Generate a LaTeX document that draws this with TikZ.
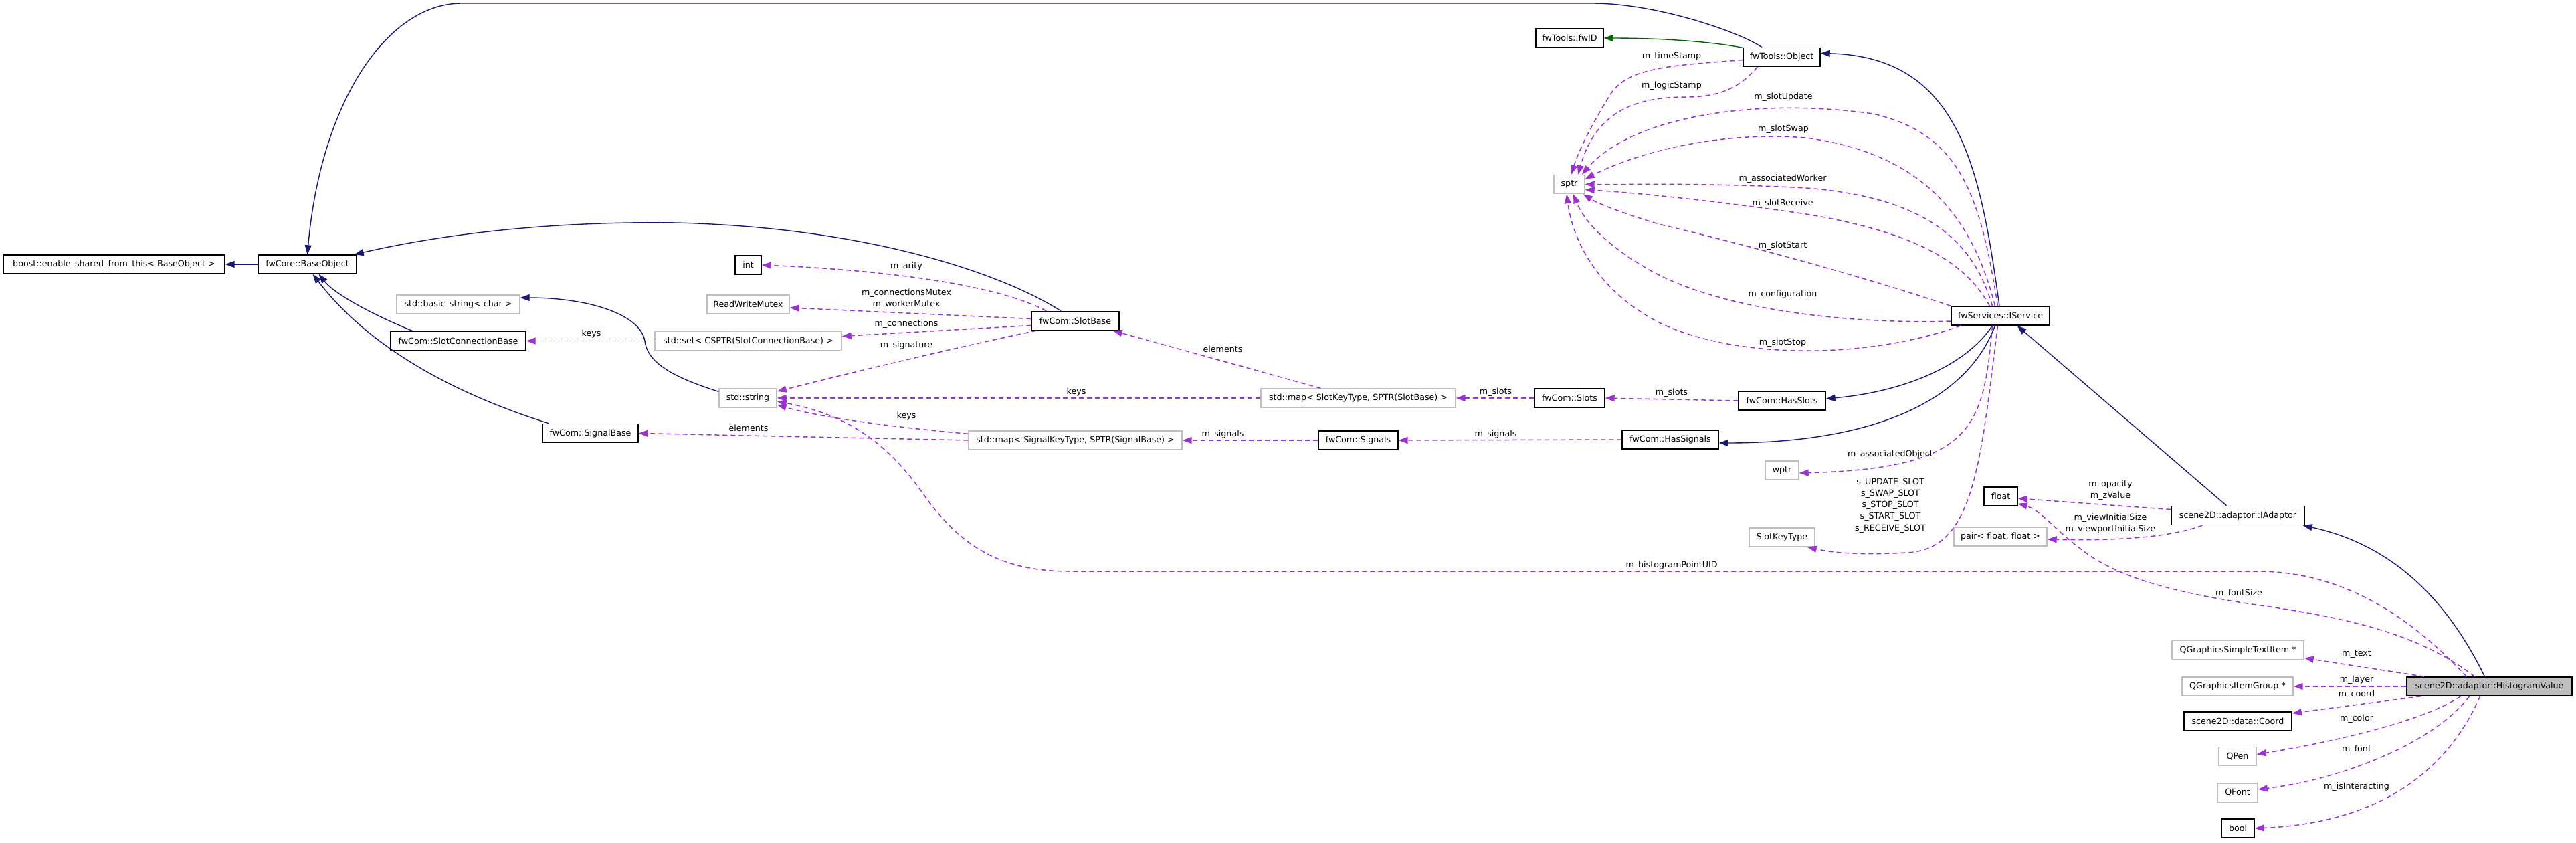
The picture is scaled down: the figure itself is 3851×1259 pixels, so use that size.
\documentclass[tikz,border=0pt]{standalone}
\usepackage{fontspec}
\setmainfont{DejaVu Sans}
\usetikzlibrary{arrows.meta,calc}
\definecolor{navy}{HTML}{191970}
\definecolor{purp}{HTML}{9A32CD}
\definecolor{dgreen}{HTML}{006400}
\definecolor{gborder}{HTML}{BFBFBF}
\begin{document}
\begin{tikzpicture}[x=0.5pt,y=-0.5pt,
  every node/.style={font=\fontsize{6.33}{8.6}\selectfont},
  box/.style={draw=black,line width=0.7pt,minimum height=14pt,inner sep=0pt,fill=white},
  gbox/.style={box,draw=gborder},
  hbox/.style={box,fill=gborder},
  lbl/.style={inner sep=0pt,align=center},
  inh/.style={draw=navy,line width=0.7pt,-{Triangle[length=7pt,width=5pt]}},
  grn/.style={draw=dgreen,line width=0.7pt,-{Triangle[length=7pt,width=5pt]}},
  mem/.style={draw=purp,line width=0.75pt,dash pattern=on 3.5pt off 2.5pt,-{Triangle[length=7pt,width=5pt]}}]
\useasboundingbox (0,0) rectangle (3851,1259);
% nodes
\node[box,minimum width=165.5pt] (boost) at (170.5,395) {boost::enable\_shared\_from\_this< BaseObject >};
\node[box,minimum width=73.5pt] (base) at (459.5,395) {fwCore::BaseObject};
\node[gbox,minimum width=92pt] (bstr) at (685,455) {std::basic\_string< char >};
\node[box,minimum width=101pt] (sconn) at (685,509.5) {fwCom::SlotConnectionBase};
\node[gbox,minimum width=139.5pt] (sset) at (1118.5,509.5) {std::set< CSPTR(SlotConnectionBase) >};
\node[box,minimum width=19.5pt] (int) at (1118.5,396) {int};
\node[gbox,minimum width=61.5pt] (rwm) at (1118.5,455) {ReadWriteMutex};
\node[gbox,minimum width=43pt] (str) at (1118,595) {std::string};
\node[box,minimum width=71.5pt] (sigbase) at (882.5,647.5) {fwCom::SignalBase};
\node[box,minimum width=65.5pt] (slotbase) at (1607.5,479.5) {fwCom::SlotBase};
\node[gbox,minimum width=145.5pt] (mapslot) at (2030.5,595) {std::map< SlotKeyType, SPTR(SlotBase) >};
\node[gbox,minimum width=159.5pt] (mapsig) at (1607.5,658) {std::map< SignalKeyType, SPTR(SignalBase) >};
\node[box,minimum width=52.5pt] (slots) at (2346.5,595) {fwCom::Slots};
\node[box,minimum width=59.5pt] (signals) at (2030.5,658) {fwCom::Signals};
\node[box,minimum width=65pt] (hasslots) at (2664,599) {fwCom::HasSlots};
\node[box,minimum width=72pt] (hassignals) at (2497,657) {fwCom::HasSignals};
\node[box,minimum width=50.5pt] (fwid) at (2346.5,57) {fwTools::fwID};
\node[box,minimum width=57.5pt] (object) at (2663.5,85.5) {fwTools::Object};
\node[gbox,minimum width=23pt] (sptr) at (2346,275.5) {sptr};
\node[box,minimum width=73.5pt] (iservice) at (2990.5,472) {fwServices::IService};
\node[gbox,minimum width=25pt] (wptr) at (2664,703) {wptr};
\node[gbox,minimum width=49pt] (skt) at (2664,803) {SlotKeyType};
\node[box,minimum width=25pt] (float) at (2991,742) {float};
\node[gbox,minimum width=69.5pt] (pair) at (2990.5,802) {pair< float, float >};
\node[box,minimum width=99.5pt] (iadaptor) at (3345.5,770.5) {scene2D::adaptor::IAdaptor};
\node[gbox,minimum width=98.5pt] (qgsti) at (3345.5,971.5) {QGraphicsSimpleTextItem *};
\node[gbox,minimum width=83pt] (qgig) at (3345,1026) {QGraphicsItemGroup *};
\node[hbox,minimum width=123.5pt] (hv) at (3721.5,1026) {scene2D::adaptor::HistogramValue};
\node[box,minimum width=80.5pt] (coord) at (3345.5,1078) {scene2D::data::Coord};
\node[gbox,minimum width=28pt] (qpen) at (3345,1130.5) {QPen};
\node[gbox,minimum width=30pt] (qfont) at (3345,1185) {QFont};
\node[box,minimum width=24.5pt] (bool) at (3345.5,1238) {bool};
% inheritance edges
\draw[inh] (base.west) -- (boost.east);
\draw[inh] ($(object.north)+(-29.5,0)$) .. controls (2605,50) and (2480,5) .. (2380,5) -- (690,5) .. controls (580,5) and (480,150) .. (base.north);
\draw[inh] ($(slotbase.north)+(-21.5,0)$) .. controls (1500,410) and (1300,340) .. (1011,333) .. controls (800,330) and (640,355) .. ($(base.north east)+(-4,0)$);
\draw[inh] ($(sconn.north west)+(34,0)$) .. controls (580,480) and (505,445) .. ($(base.south)+(17,0)$);
\draw[inh] ($(sigbase.north west)+(10,0)$) .. controls (700,595) and (560,530) .. ($(base.south)+(8,0)$);
\draw[inh] ($(str.north west)+(0,5)$) .. controls (1000,562) and (968,540) .. (964,510) .. controls (958,470) and (880,445) .. ($(bstr.east)+(0,-10)$);
\draw[inh] ($(iservice.north)+(-1.5,0)$) .. controls (2960,250) and (2930,85) .. ($(object.east)+(0,-6)$);
\draw[inh] ($(iservice.south)+(-12,0)$) .. controls (2940,545) and (2850,585) .. ($(hasslots.east)+(0,-3)$);
\draw[inh] ($(iservice.south)+(-8,0)$) .. controls (2940,600) and (2800,662) .. ($(hassignals.east)+(0,5)$);
\draw[inh] ($(iadaptor.north)+(-17,0)$) -- ($(iservice.south)+(25,0)$);
\draw[inh] ($(hv.north)+(-7,0)$) .. controls (3660,900) and (3580,815) .. ($(iadaptor.south east)+(-3,0)$);
\draw[grn] ($(object.north west)+(2,1)$) .. controls (2560,62) and (2480,57) .. (fwid.east);
% member edges
\draw[mem] ($(slotbase.north west)+(23,0)$) .. controls (1500,430) and (1350,405) .. (int.east);
\draw[mem] ($(slotbase.west)+(0,-3)$) -- ($(rwm.east)+(0,5)$);
\draw[mem] ($(slotbase.west)+(0,7)$) -- ($(sset.east)+(0,-7)$);
\draw[mem] ($(slotbase.south west)+(8,0)$) .. controls (1450,515) and (1300,550) .. ($(str.east)+(0,-10)$);
\draw[mem] ($(mapslot.north west)+(90,0)$) -- ($(slotbase.south east)+(-10,0)$);
\draw[mem] (mapslot.west) -- (str.east);
\draw[mem] ($(mapsig.north west)+(0,5)$) .. controls (1350,640) and (1230,625) .. ($(str.east)+(0,10)$);
\draw[mem] (mapsig.west) -- (sigbase.east);
\draw[mem] (sset.west) -- (sconn.east);
\draw[mem] (slots.west) -- (mapslot.east);
\draw[mem] (hasslots.west) -- (slots.east);
\draw[mem] (signals.west) -- (mapsig.east);
\draw[mem] (hassignals.west) -- (signals.east);
\draw[mem] ($(object.west)+(0,4)$) .. controls (2500,98) and (2435,100) .. (2408,140) .. controls (2380,185) and (2360,225) .. ($(sptr.north)+(3,0)$);
\draw[mem] ($(object.south west)+(22,0)$) .. controls (2605,125) and (2580,145) .. (2520,145) .. controls (2440,145) and (2385,170) .. ($(sptr.north)+(13,0)$);
\draw[mem] ($(iservice.north)+(-4,0)$) .. controls (2960,290) and (2930,200) .. (2800,170) .. controls (2620,145) and (2440,175) .. ($(sptr.north east)+(-5,0)$);
\draw[mem] ($(iservice.north)+(-8,0)$) .. controls (2950,330) and (2880,230) .. (2700,206) .. controls (2560,195) and (2440,232) .. ($(sptr.east)+(0,-8)$);
\draw[mem] ($(iservice.north)+(-12,0)$) .. controls (2950,360) and (2880,295) .. (2700,281) .. controls (2550,273) and (2440,276) .. (sptr.east);
\draw[mem] ($(iservice.north)+(-16,0)$) .. controls (2940,395) and (2870,348) .. (2700,320) .. controls (2550,298) and (2430,287) .. ($(sptr.east)+(0,8)$);
\draw[mem] (iservice.north west) .. controls (2800,418) and (2620,368) .. (2480,335) .. controls (2430,320) and (2390,305) .. ($(sptr.south east)+(-3,0)$);
\draw[mem] ($(iservice.west)+(0,8)$) .. controls (2750,485) and (2560,460) .. (2460,400) .. controls (2400,365) and (2368,330) .. ($(sptr.south)+(6,0)$);
\draw[mem] ($(iservice.south west)+(15,0)$) .. controls (2800,535) and (2600,540) .. (2480,482) .. controls (2380,430) and (2350,350) .. ($(sptr.south)+(-4,0)$);
\draw[mem] ($(iservice.south)+(-12,0)$) .. controls (2965,640) and (2950,700) .. ($(wptr.east)+(0,4)$);
\draw[mem] ($(iservice.south)+(-4,0)$) .. controls (2960,700) and (2950,822) .. (2850,826) .. controls (2780,830) and (2740,826) .. ($(skt.south east)+(-12,0)$);
\draw[mem] ($(iadaptor.west)+(0,-9)$) -- ($(float.east)+(0,3)$);
\draw[mem] ($(iadaptor.south west)+(47,0)$) .. controls (3240,805) and (3150,808) .. ($(pair.east)+(0,4)$);
\draw[mem] ($(hv.north)+(-22,0)$) .. controls (3620,950) and (3520,925) .. (3380,905) .. controls (3240,885) and (3160,860) .. (3110,820) .. controls (3070,790) and (3050,762) .. ($(float.south east)+(0,-4)$);
\draw[mem] ($(hv.north)+(-34,0)$) .. controls (3620,940) and (3520,856) .. (3380,854) -- (1600,854) .. controls (1500,854) and (1440,820) .. (1385,745) .. controls (1330,665) and (1270,620) .. ($(str.east)+(0,5)$);
\draw[mem] ($(hv.north west)+(27,0)$) -- ($(qgsti.east)+(0,12)$);
\draw[mem] (hv.west) -- (qgig.east);
\draw[mem] ($(hv.south west)+(22,0)$) -- ($(coord.east)+(0,-12)$);
\draw[mem] ($(hv.south)+(-43,0)$) .. controls (3620,1080) and (3480,1110) .. ($(qpen.east)+(0,-3)$);
\draw[mem] ($(hv.south)+(-30,0)$) .. controls (3640,1110) and (3500,1165) .. ($(qfont.east)+(0,-5)$);
\draw[mem] ($(hv.south)+(-14,0)$) .. controls (3660,1150) and (3560,1230) .. (bool.east);
% labels
\node[lbl] (l1) at (1355,398) {m\_arity};
\node[lbl] (l2) at (1355,446.5) {m\_connectionsMutex\\m\_workerMutex};
\node[lbl] (l3) at (1355,484) {m\_connections};
\node[lbl] (l4) at (1355,516) {m\_signature};
\node[lbl] (l5) at (1828,522) {elements};
\node[lbl] (l6) at (1609,586) {keys};
\node[lbl] (l7) at (1355,622) {keys};
\node[lbl] (l8) at (1119,640) {elements};
\node[lbl] (l9) at (884,499) {keys};
\node[lbl] (l10) at (2236,586) {m\_slots};
\node[lbl] (l11) at (2499,587) {m\_slots};
\node[lbl] (l12) at (1828,649) {m\_signals};
\node[lbl] (l13) at (2236,649) {m\_signals};
\node[lbl] (l14) at (2499,84) {m\_timeStamp};
\node[lbl] (l15) at (2499,128) {m\_logicStamp};
\node[lbl] (l16) at (2666,145) {m\_slotUpdate};
\node[lbl] (l17) at (2666,193) {m\_slotSwap};
\node[lbl] (l18) at (2665,267) {m\_associatedWorker};
\node[lbl] (l19) at (2665,304) {m\_slotReceive};
\node[lbl] (l20) at (2665,367) {m\_slotStart};
\node[lbl] (l21) at (2665,440) {m\_configuration};
\node[lbl] (l22) at (2665,512) {m\_slotStop};
\node[lbl] (l23) at (2826,679) {m\_associatedObject};
\node[lbl] (l24) at (2826,755.5) {s\_UPDATE\_SLOT\\s\_SWAP\_SLOT\\s\_STOP\_SLOT\\s\_START\_SLOT\\s\_RECEIVE\_SLOT};
\node[lbl] (l25) at (3155,733) {m\_opacity\\m\_zValue};
\node[lbl] (l26) at (3155,782.5) {m\_viewInitialSize\\m\_viewportInitialSize};
\node[lbl] (l27) at (3347,887) {m\_fontSize};
\node[lbl] (l28) at (2499,845) {m\_histogramPointUID};
\node[lbl] (l29) at (3523,978) {m\_text};
\node[lbl] (l30) at (3523,1016) {m\_layer};
\node[lbl] (l31) at (3523,1038) {m\_coord};
\node[lbl] (l32) at (3523,1074) {m\_color};
\node[lbl] (l33) at (3523,1120) {m\_font};
\node[lbl] (l34) at (3523,1176) {m\_isInteracting};
\end{tikzpicture}
\end{document}
